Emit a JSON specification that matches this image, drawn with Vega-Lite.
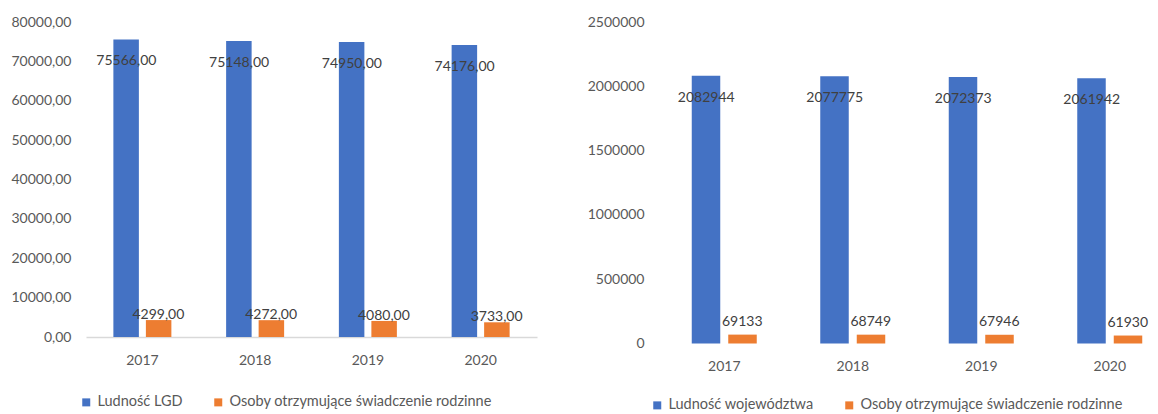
{
  "$schema": "https://vega.github.io/schema/vega-lite/v6.json",
  "background": "white",
  "padding": {"left": 10, "top": 15, "right": 0, "bottom": 0},
  "datasets": {
    "lgd": [
      {"year": "2017", "series": "Ludność LGD", "value": 75566},
      {"year": "2017", "series": "Osoby otrzymujące świadczenie rodzinne", "value": 4299},
      {"year": "2018", "series": "Ludność LGD", "value": 75148},
      {"year": "2018", "series": "Osoby otrzymujące świadczenie rodzinne", "value": 4272},
      {"year": "2019", "series": "Ludność LGD", "value": 74950},
      {"year": "2019", "series": "Osoby otrzymujące świadczenie rodzinne", "value": 4080},
      {"year": "2020", "series": "Ludność LGD", "value": 74176},
      {"year": "2020", "series": "Osoby otrzymujące świadczenie rodzinne", "value": 3733}
    ],
    "woj": [
      {"year": "2017", "series": "Ludność województwa", "value": 2082944},
      {"year": "2017", "series": "Osoby otrzymujące świadczenie rodzinne", "value": 69133},
      {"year": "2018", "series": "Ludność województwa", "value": 2077775},
      {"year": "2018", "series": "Osoby otrzymujące świadczenie rodzinne", "value": 68749},
      {"year": "2019", "series": "Ludność województwa", "value": 2072373},
      {"year": "2019", "series": "Osoby otrzymujące świadczenie rodzinne", "value": 67946},
      {"year": "2020", "series": "Ludność województwa", "value": 2061942},
      {"year": "2020", "series": "Osoby otrzymujące świadczenie rodzinne", "value": 61930}
    ]
  },
  "config": {
    "locale": {"number": {"decimal": ",", "thousands": "\u00a0", "grouping": [3], "currency": ["", " zł"]}},
    "font": "Lato",
    "view": {"stroke": null},
    "axis": {"labelFont": "Lato", "labelColor": "#595959", "labelFontSize": 14, "ticks": false, "grid": false, "title": null},
    "legend": {"labelFont": "Lato", "labelColor": "#595959", "labelFontSize": 14.5, "labelLimit": 500, "symbolType": "square", "symbolSize": 64, "symbolStrokeWidth": 0, "title": null, "orient": "none", "direction": "horizontal", "columnPadding": 28, "labelOffset": 4}
  },
  "spacing": 50,
  "resolve": {"scale": {"color": "independent", "y": "independent", "x": "independent"}},
  "hconcat": [
    {
      "width": 451,
      "height": 315,
      "data": {"name": "lgd"},
      "encoding": {
        "x": {"field": "year", "type": "nominal", "scale": {"type": "band", "paddingInner": 0, "paddingOuter": 0},
              "axis": {"labelAngle": 0, "domainColor": "#D9D9D9", "domainWidth": 1.5, "labelPadding": 16}},
        "y": {"field": "value", "type": "quantitative", "scale": {"domain": [0, 80000]},
              "axis": {"domain": false, "format": ".2f", "values": [0, 10000, 20000, 30000, 40000, 50000, 60000, 70000, 80000], "labelPadding": 15}}
      },
      "layer": [
        {
          "transform": [{"filter": "datum.series === 'Ludność LGD'"}],
          "mark": {"type": "bar", "width": 25.5, "xOffset": -16.25},
          "encoding": {
            "color": {"field": "series", "type": "nominal",
                      "scale": {"domain": ["Ludność LGD", "Osoby otrzymujące świadczenie rodzinne"], "range": ["#4472C4", "#ED7D31"]},
                      "legend": {"legendX": -7, "legendY": 373}}
          }
        },
        {
          "transform": [{"filter": "datum.series !== 'Ludność LGD'"}],
          "mark": {"type": "bar", "width": 25.5, "xOffset": 16.25},
          "encoding": {
            "color": {"field": "series", "type": "nominal"}
          }
        },
        {
          "transform": [{"filter": "datum.series === 'Ludność LGD'"}],
          "mark": {"type": "text", "baseline": "middle", "dy": 22, "dx": -16, "fontSize": 14, "color": "#404040"},
          "encoding": {"text": {"field": "value", "type": "quantitative", "format": ".2f"}}
        },
        {
          "transform": [{"filter": "datum.series !== 'Ludność LGD'"}],
          "mark": {"type": "text", "baseline": "middle", "dy": -5, "dx": 16, "fontSize": 14, "color": "#404040"},
          "encoding": {"text": {"field": "value", "type": "quantitative", "format": ".2f"}}
        }
      ]
    },
    {
      "width": 499,
      "height": 321.5,
      "data": {"name": "woj"},
      "encoding": {
        "x": {"field": "year", "type": "nominal", "scale": {"type": "band", "paddingInner": 0, "paddingOuter": 0, "range": [0, 514]},
              "axis": {"labelAngle": 0, "domain": false, "labelPadding": 16}},
        "y": {"field": "value", "type": "quantitative", "scale": {"domain": [0, 2500000]},
              "axis": {"domain": false, "format": "d", "values": [0, 500000, 1000000, 1500000, 2000000, 2500000], "labelPadding": 16}}
      },
      "layer": [
        {
          "transform": [{"filter": "datum.series === 'Ludność województwa'"}],
          "mark": {"type": "bar", "width": 28.5, "xOffset": -18.25},
          "encoding": {
            "color": {"field": "series", "type": "nominal",
                      "scale": {"domain": ["Ludność województwa", "Osoby otrzymujące świadczenie rodzinne"], "range": ["#4472C4", "#ED7D31"]},
                      "legend": {"legendX": -10, "legendY": 376}}
          }
        },
        {
          "transform": [{"filter": "datum.series !== 'Ludność województwa'"}],
          "mark": {"type": "bar", "width": 28.5, "xOffset": 18.25},
          "encoding": {
            "color": {"field": "series", "type": "nominal"}
          }
        },
        {
          "mark": {"type": "rule", "color": "#D9D9D9", "strokeWidth": 1.5},
          "encoding": {"y": {"datum": 0}}
        },
        {
          "transform": [{"filter": "datum.series === 'Ludność województwa'"}],
          "mark": {"type": "text", "baseline": "middle", "dy": 22, "dx": -18, "fontSize": 14, "color": "#404040"},
          "encoding": {"text": {"field": "value", "type": "quantitative", "format": "d"}}
        },
        {
          "transform": [{"filter": "datum.series !== 'Ludność województwa'"}],
          "mark": {"type": "text", "baseline": "middle", "dy": -13, "dx": 18, "fontSize": 14, "color": "#404040"},
          "encoding": {"text": {"field": "value", "type": "quantitative", "format": "d"}}
        }
      ]
    }
  ]
}
